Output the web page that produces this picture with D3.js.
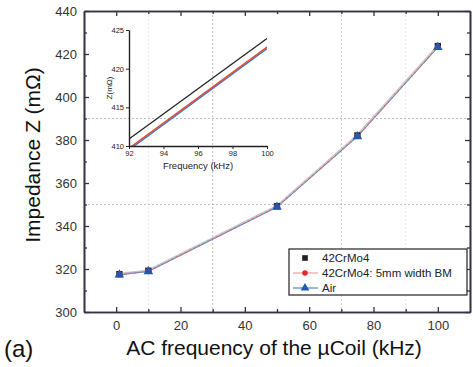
<!DOCTYPE html>
<html>
<head>
<meta charset="utf-8">
<script src="https://d3js.org/d3.v7.min.js"></script>
<style>
  body { margin: 0; background: #fff; }
  text { font-family: "Liberation Sans", Arial, sans-serif; }
</style>
</head>
<body>
<script>
// main chart data (kHz, mOhm)
var freq = [1, 10, 50, 75, 100];
var steel = [317.6, 319.2, 349.2, 382.1, 423.7];
var steelBM = [317.4, 319.0, 349.0, 381.8, 423.3];
var air = [317.3, 318.9, 348.8, 381.6, 423.1];

// inset data (zoom 92-100 kHz)
var insetFreq = [92, 100];
var insetSteel = [410.9, 423.9];
var insetBM = [409.7, 422.8];
var insetAir = [409.5, 422.6];

var xTicks = [0, 20, 40, 60, 80, 100];
var yTicks = [300, 320, 340, 360, 380, 400, 420, 440];

var W = 473, H = 367;
var svg = d3.select("body").append("svg")
  .attr("width", W)
  .attr("height", H);

var x = d3.scaleLinear().domain([-10, 110]).range([84, 470]);
var y = d3.scaleLinear().domain([300, 440]).range([312, 11]);

var axisColor = "#333344";

//grid lines
var gridX = [10, 30, 70, 90];
svg.selectAll(".gx").data(gridX).enter().append("line")
  .attr("x1", function (d) { return x(d); })
  .attr("x2", function (d) { return x(d); })
  .attr("y1", y(440)).attr("y2", y(300))
  .attr("stroke", function (d) { return (d == 30 || d == 70) ? "#c4c4c4" : "#e6e6e6"; })
  .attr("stroke-dasharray", "2,2");
svg.selectAll(".gy").data([350, 390]).enter().append("line")
  .attr("y1", function (d) { return y(d); })
  .attr("y2", function (d) { return y(d); })
  .attr("x1", x(-10)).attr("x2", x(110))
  .attr("stroke", "#bdbdbd")
  .attr("stroke-dasharray", "2,2");

// axes with inward ticks on all sides
function styleAxis(g) {
  g.select(".domain").attr("stroke", axisColor).attr("stroke-width", 1.6);
  g.selectAll(".tick line").attr("stroke", axisColor).attr("stroke-width", 1.3);
  g.selectAll(".tick text").attr("fill", "#333").style("font-size", "13px");
}
var minorX = [10, 30, 50, 70, 90];
var minorY = [310, 330, 350, 370, 390, 410, 430];

svg.append("g").attr("transform", "translate(0," + y(300) + ")")
  .call(d3.axisBottom(x).tickValues(minorX).tickSize(-3).tickSizeOuter(0).tickFormat(""))
  .call(styleAxis);
svg.append("g").attr("transform", "translate(0," + y(300) + ")")
  .call(d3.axisBottom(x).tickValues(xTicks).tickSize(-5).tickSizeOuter(0).tickPadding(9))
  .call(styleAxis);
svg.append("g").attr("transform", "translate(0," + y(440) + ")")
  .call(d3.axisTop(x).tickValues(minorX).tickSize(-3).tickSizeOuter(0).tickFormat(""))
  .call(styleAxis);
svg.append("g").attr("transform", "translate(0," + y(440) + ")")
  .call(d3.axisTop(x).tickValues(xTicks).tickSize(-5).tickSizeOuter(0).tickFormat(""))
  .call(styleAxis);

svg.append("g").attr("transform", "translate(" + x(-10) + ",0)")
  .call(d3.axisLeft(y).tickValues(minorY).tickSize(-3).tickSizeOuter(0).tickFormat(""))
  .call(styleAxis);
svg.append("g").attr("transform", "translate(" + x(-10) + ",0)")
  .call(d3.axisLeft(y).tickValues(yTicks).tickSize(-5).tickSizeOuter(0).tickPadding(7))
  .call(styleAxis);
svg.append("g").attr("transform", "translate(" + x(110) + ",0)")
  .call(d3.axisRight(y).tickValues(minorY).tickSize(-3).tickSizeOuter(0).tickFormat(""))
  .call(styleAxis);
svg.append("g").attr("transform", "translate(" + x(110) + ",0)")
  .call(d3.axisRight(y).tickValues(yTicks).tickSize(-5).tickSizeOuter(0).tickFormat(""))
  .call(styleAxis);

//axis labels
svg.append("text")
  .attr("x", 274).attr("y", 355)
  .attr("text-anchor", "middle")
  .style("font-size", "21px")
  .attr("fill", "#111")
  .text("AC frequency of the \u00b5Coil (kHz)");
svg.append("text")
  .attr("transform", "translate(40," + 155 + ") rotate(-90)")
  .attr("text-anchor", "middle")
  .style("font-size", "21px")
  .attr("fill", "#111")
  .text("Impedance Z (m\u03a9)");
svg.append("text")
  .attr("x", 4).attr("y", 357)
  .style("font-size", "24px")
  .attr("fill", "#111")
  .text("(a)");

// series
var series = [
  { name: "42CrMo4", vals: steel, color: "#222", line: "#c6c6c6", width: 2.6, dash: null, shape: d3.symbolSquare },
  { name: "42CrMo4: 5mm width BM", vals: steelBM, color: "#e8262a", line: "#ee6a6a", width: 1.2, dash: "2,3", shape: d3.symbolCircle },
  { name: "Air", vals: air, color: "#2457b0", line: "#5b84cc", width: 1, dash: null, shape: d3.symbolTriangle }
];
var drawOrder = [0, 2, 1];

drawOrder.forEach(function (k) {
  var s = series[k];
  var line = d3.line()
    .x(function (d, i) { return x(freq[i]); })
    .y(function (d) { return y(d); });
  svg.append("path")
    .datum(s.vals)
    .attr("d", line)
    .attr("fill", "none")
    .attr("stroke", s.line)
    .attr("stroke-width", s.width)
    .attr("stroke-dasharray", s.dash);
});
series.forEach(function (s) {
  svg.selectAll(null).data(s.vals).enter().append("path")
    .attr("transform", function (d, i) { return "translate(" + x(freq[i]) + "," + y(d) + ")"; })
    .attr("d", d3.symbol().type(s.shape).size(s.shape == d3.symbolCircle ? 28 : 40))
    .attr("fill", s.color);
});

//legend
var lg = svg.append("g");
lg.append("rect")
  .attr("x", 289).attr("y", 249)
  .attr("width", 178).attr("height", 46)
  .attr("fill", "#fff")
  .attr("stroke", "#222").attr("stroke-width", 1.2);
series.forEach(function (s, i) {
  var ly = 258 + i * 15;
  lg.append("line")
    .attr("x1", 293).attr("x2", 318)
    .attr("y1", ly).attr("y2", ly)
    .attr("stroke", i == 1 ? "#f4a0a0" : s.line)
    .attr("stroke-width", 1.2)
    .attr("opacity", i == 0 ? 0 : 1);
  lg.append("path")
    .attr("transform", "translate(305," + ly + ")")
    .attr("d", d3.symbol().type(s.shape).size(s.shape == d3.symbolCircle ? 24 : 32))
    .attr("fill", s.color);
  lg.append("text")
    .attr("x", 322).attr("y", ly + 4)
    .style("font-size", "11.5px")
    .attr("fill", "#222")
    .text(s.name);
});

// INSET
var ix = d3.scaleLinear().domain([92, 100]).range([129, 267]);
var iy = d3.scaleLinear().domain([410, 425]).range([146, 30]);

svg.append("clipPath").attr("id", "iclip")
  .append("rect")
  .attr("x", ix(92)).attr("y", iy(425))
  .attr("width", ix(100) - ix(92)).attr("height", iy(410) - iy(425));

var insetSeries = [
  { vals: insetSteel, color: "#222" },
  { vals: insetAir, color: "#3a78c8" },
  { vals: insetBM, color: "#e8462a" }
];
var iline = d3.line()
  .x(function (d, i) { return ix(insetFreq[i]); })
  .y(function (d) { return iy(d); });
insetSeries.forEach(function (s) {
  svg.append("path")
    .datum(s.vals)
    .attr("d", iline)
    .attr("clip-path", "url(#iclip)")
    .attr("fill", "none")
    .attr("stroke", s.color)
    .attr("stroke-width", 1.4);
});

function styleInset(g) {
  g.select(".domain").attr("stroke", "#222").attr("stroke-width", 1.4);
  g.selectAll(".tick line").attr("stroke", "#222");
  g.selectAll(".tick text").attr("fill", "#222").style("font-size", "7.5px");
}
svg.append("g").attr("transform", "translate(0," + iy(410) + ")")
  .call(d3.axisBottom(ix).tickValues([92, 94, 96, 98, 100]).tickSize(3).tickSizeOuter(0).tickPadding(2))
  .call(styleInset);
svg.append("g").attr("transform", "translate(" + ix(92) + ",0)")
  .call(d3.axisLeft(iy).tickValues([410, 415, 420, 425]).tickSize(3).tickSizeOuter(0).tickPadding(2))
  .call(styleInset);

svg.append("text")
  .attr("x", 198).attr("y", 169)
  .attr("text-anchor", "middle")
  .style("font-size", "9.5px")
  .attr("fill", "#222")
  .text("Frequency (kHz)");
svg.append("text")
  .attr("transform", "translate(112,88) rotate(-90)")
  .attr("text-anchor", "middle")
  .style("font-size", "8px")
  .attr("fill", "#222")
  .text("Z(m\u03a9)");
</script>
</body>
</html>
